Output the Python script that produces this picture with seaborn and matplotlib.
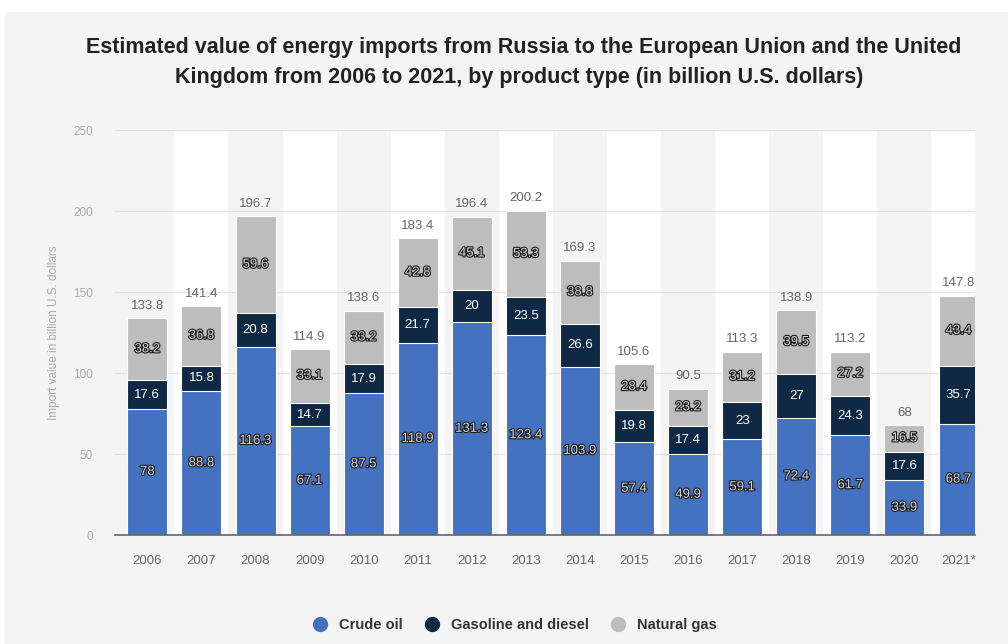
import matplotlib
matplotlib.use("Agg")
import matplotlib.pyplot as plt
import matplotlib.patheffects as pe
from matplotlib.lines import Line2D
from matplotlib.patches import Rectangle
import seaborn as sns
import numpy as np

years = ["2006", "2007", "2008", "2009", "2010", "2011", "2012", "2013",
         "2014", "2015", "2016", "2017", "2018", "2019", "2020", "2021*"]
crude_oil = [78, 88.8, 116.3, 67.1, 87.5, 118.9, 131.3, 123.4,
             103.9, 57.4, 49.9, 59.1, 72.4, 61.7, 33.9, 68.7]
gasoline_diesel = [17.6, 15.8, 20.8, 14.7, 17.9, 21.7, 20, 23.5,
                   26.6, 19.8, 17.4, 23, 27, 24.3, 17.6, 35.7]
natural_gas = [38.2, 36.8, 59.6, 33.1, 33.2, 42.8, 45.1, 53.3,
               38.8, 28.4, 23.2, 31.2, 39.5, 27.2, 16.5, 43.4]
totals = [133.8, 141.4, 196.7, 114.9, 138.6, 183.4, 196.4, 200.2,
          169.3, 105.6, 90.5, 113.3, 138.9, 113.2, 68, 147.8]
series_names = ["Crude oil", "Gasoline and diesel", "Natural gas"]

BLUE = "#4472c0"
NAVY = "#0f2843"
GREY = "#bdbdbd"
BG = "#f4f4f4"

sns.set_style("white")
plt.rcParams["font.family"] = ["Liberation Sans", "DejaVu Sans"]

fig = plt.figure(figsize=(10.08, 6.44), dpi=100, facecolor="white")
# grey panel with thin white border at top/left like the screenshot
fig.patches.append(Rectangle((0.005, 0), 1, 0.982, transform=fig.transFigure,
                             facecolor=BG, edgecolor="none", zorder=-10))
ax = fig.add_axes([0.114, 0.169, 0.853, 0.629])
ax.set_facecolor(BG)

# alternating column bands
for i in range(len(years)):
    if i % 2 == 1:
        ax.axvspan(i - 0.5, i + 0.5, color="white", zorder=0, lw=0)

cum_gas = np.array(crude_oil) + np.array(gasoline_diesel) + np.array(natural_gas)
cum_gd = np.array(crude_oil) + np.array(gasoline_diesel)

bw = 0.74
sns.barplot(x=years, y=cum_gas, color=GREY, width=bw, saturation=1,
            edgecolor="white", linewidth=0.8, ax=ax, zorder=3)
sns.barplot(x=years, y=cum_gd, color=NAVY, width=bw, saturation=1,
            edgecolor="white", linewidth=0.8, ax=ax, zorder=3)
sns.barplot(x=years, y=crude_oil, color=BLUE, width=bw, saturation=1,
            edgecolor="white", linewidth=0.8, ax=ax, zorder=3)

outline = [pe.withStroke(linewidth=1.6, foreground="#1a1a1a")]
for i in range(len(years)):
    c, g, n = crude_oil[i], gasoline_diesel[i], natural_gas[i]
    ax.text(i, c / 2, f"{c:g}", ha="center", va="center", fontsize=9.5,
            color="#d8d8d8", path_effects=outline, zorder=5)
    ax.text(i, c + g / 2, f"{g:g}", ha="center", va="center", fontsize=9.5,
            color="white", zorder=5)
    ax.text(i, c + g + n / 2, f"{n:g}", ha="center", va="center", fontsize=9.5,
            color="#d8d8d8", path_effects=outline, zorder=5)
    ax.text(i, totals[i] + 4, f"{totals[i]:g}", ha="center", va="bottom",
            fontsize=9.5, color="#666666", zorder=5)

ax.set_ylim(0, 250)
ax.set_xlim(-0.6, 15.3)
ax.set_yticks([0, 50, 100, 150, 200, 250])
ax.yaxis.grid(True, color="#e2e2e2", linewidth=0.9, zorder=1)
ax.set_axisbelow(True)
for s in ["top", "right", "left"]:
    ax.spines[s].set_visible(False)
ax.spines["bottom"].set_color("#666666")
ax.spines["bottom"].set_linewidth(1.2)
ax.spines["bottom"].set_zorder(6)
ax.tick_params(axis="y", length=0, labelsize=8.5, labelcolor="#aaaaaa", pad=16)
ax.tick_params(axis="x", length=0, labelsize=9.5, labelcolor="#666666", pad=14)
ax.set_xlabel("")
ax.set_ylabel("Import value in billion U.S. dollars", fontsize=8.5,
              color="#aaaaaa", labelpad=9)

fig.text(0.52, 0.927, "Estimated value of energy imports from Russia to the European Union and the United",
         ha="center", va="center", fontsize=15.5, fontweight="bold", color="#222222")
fig.text(0.515, 0.879, "Kingdom from 2006 to 2021, by product type (in billion U.S. dollars)",
         ha="center", va="center", fontsize=15.5, fontweight="bold", color="#222222")

handles = [Line2D([0], [0], marker="o", linestyle="", markersize=10,
                  markerfacecolor=col, markeredgecolor=col)
           for col in [BLUE, NAVY, GREY]]
leg = fig.legend(handles, series_names, loc="center", bbox_to_anchor=(0.507, 0.03),
                 ncol=3, frameon=False, handletextpad=0.3, columnspacing=1.0,
                 prop={"weight": "bold", "size": 10.5})
for t in leg.get_texts():
    t.set_color("#333333")

fig.savefig("out.png", dpi=100, facecolor=fig.get_facecolor())
